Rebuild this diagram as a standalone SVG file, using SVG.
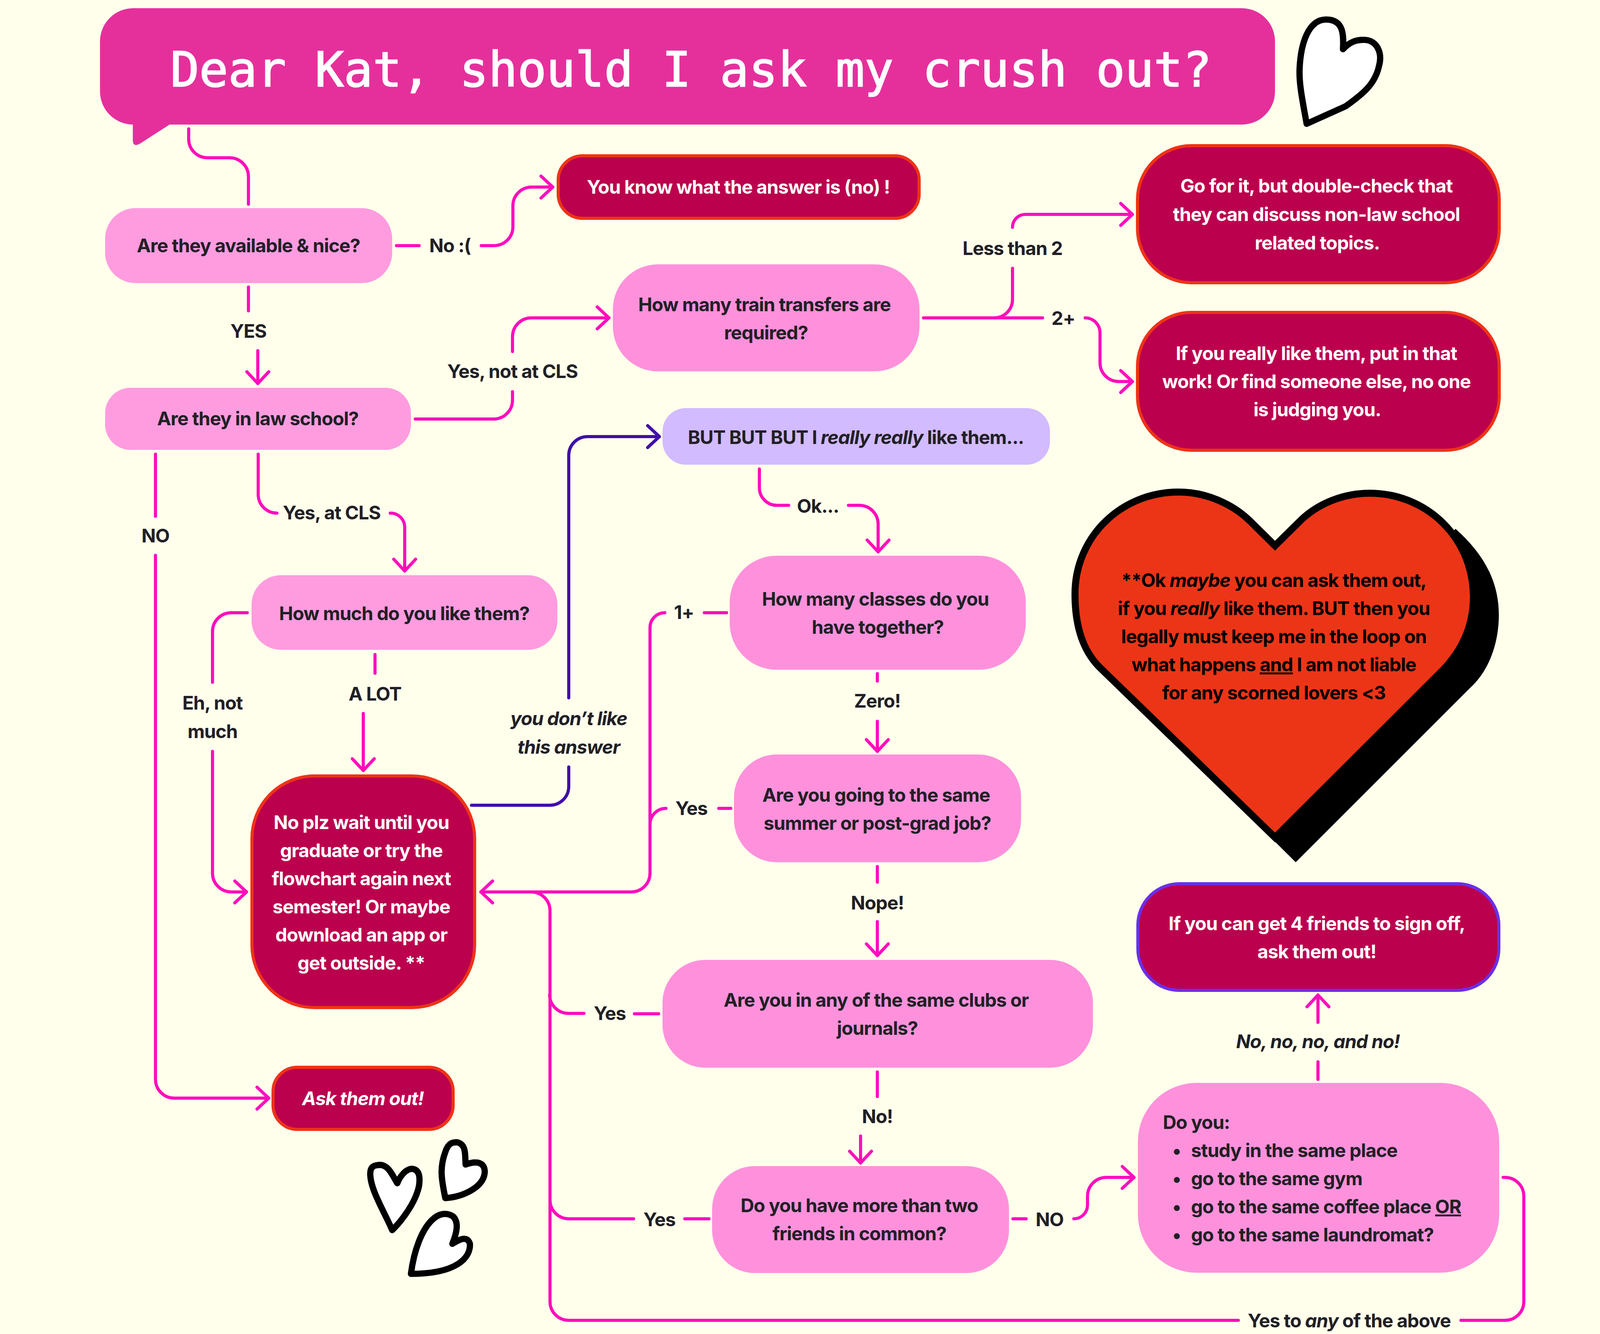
<svg xmlns="http://www.w3.org/2000/svg" width="4162" height="3416" viewBox="0 0 4162 3416">
<style>
text{font-family:"Inter","Liberation Sans",sans-serif;font-size:48px;font-weight:700;letter-spacing:-1.1px;text-anchor:middle;fill:#212025}
.w{fill:#fff}.b{fill:#000}.l{text-anchor:start}.i{font-style:italic}
.n{fill:#ff91dc}.n2{fill:#ff9ce0}
.e{fill:#bb004d;stroke:#ee3317;stroke-width:8}
.c{fill:none;stroke:#ff0dbc;stroke-width:8;stroke-linecap:round;stroke-linejoin:round}
.a{marker-end:url(#arr)}
.p{stroke:#3f0fa8}
.h{fill:#fff;stroke:#000;stroke-width:16;stroke-linejoin:round}
</style>
<defs>
<marker id="arr" markerUnits="userSpaceOnUse" viewBox="-40 -36 48 72" markerWidth="48" markerHeight="72" refX="0" refY="0" orient="auto"><path d="M-30-28L0 0L-30 28" fill="none" stroke="#ff0dbc" stroke-width="8" stroke-linecap="round" stroke-linejoin="round"/></marker>
<marker id="arrp" markerUnits="userSpaceOnUse" viewBox="-40 -36 48 72" markerWidth="48" markerHeight="72" refX="0" refY="0" orient="auto"><path d="M-30-28L0 0L-30 28" fill="none" stroke="#3f0fa8" stroke-width="8" stroke-linecap="round" stroke-linejoin="round"/></marker>
</defs>
<rect width="4162" height="3416" fill="#ffffec"/>
<g id="title">
<path d="M341 21H3179A85 85 0 0 1 3264 106V234A85 85 0 0 1 3179 319H434L358 368Q340 378 340 358V319A85 85 0 0 1 256 234V106A85 85 0 0 1 341 21Z" fill="#e5309c"/>
<text x="1769" y="221" style="font-family:'DejaVu Sans Mono','Liberation Mono',monospace;font-size:123px;font-weight:400;letter-spacing:0;stroke:#fff;stroke-width:2.5px" class="w">Dear Kat, should I ask my crush out?</text>
</g>
<g id="hearts">
<path class="h" d="M3345 317C3335 260 3325 215 3327 175C3330 110 3350 50 3395 50C3440 50 3440 90 3438 126C3455 108 3470 102 3491 102C3525 102 3540 135 3530 170C3520 215 3490 240 3445 272Z"/>
<path class="h" d="M1004 3150C985 3105 950 3050 948 3010C946 2985 960 2983 975 2983C995 2985 1005 3010 1017 3030C1025 3010 1040 2993 1055 2993C1072 2995 1076 3010 1073 3035C1065 3080 1025 3130 1004 3150Z"/>
<path class="h" d="M1140 3068C1130 3020 1125 2990 1140 2950C1148 2925 1160 2925 1170 2925C1195 2930 1190 2960 1192 2982C1210 2975 1240 2970 1241 3000C1240 3040 1185 3065 1140 3068Z"/>
<path class="h" d="M1052 3262C1060 3200 1080 3150 1105 3125C1125 3105 1145 3105 1160 3115C1175 3130 1170 3155 1158 3185C1170 3178 1195 3160 1203 3185C1205 3220 1170 3262 1052 3262Z"/>
</g>
<g id="connectors">
<path class="c" d="M483 330V356A48 48 0 0 0 531 404H588A48 48 0 0 1 636 452V523"/>
<path class="c" d="M1015 629H1073"/>
<path class="c a" d="M1232 629H1265A48 48 0 0 0 1313 581V527A48 48 0 0 1 1361 479H1415"/>
<path class="c" d="M636 735V796"/>
<path class="c a" d="M660 898V982"/>
<path class="c" d="M1063 1073H1264A48 48 0 0 0 1312 1025V1003"/>
<path class="c a" d="M1312 900V862A48 48 0 0 1 1360 814H1559"/>
<path class="c" d="M398 1163V1322"/>
<path class="c a" d="M398 1422V2764A48 48 0 0 0 446 2812H688"/>
<path class="c" d="M661 1163V1266A48 48 0 0 0 709 1314"/>
<path class="c a" d="M999 1314H1000A36 36 0 0 1 1036 1350V1462"/>
<path class="c" d="M633 1569H592A48 48 0 0 0 544 1617V1747"/>
<path class="c a" d="M544 1924V2236A48 48 0 0 0 592 2284H631"/>
<path class="c" d="M960 1676V1724"/>
<path class="c a" d="M930 1827V1973"/>
<path class="c p" d="M1207 2062H1408A48 48 0 0 0 1456 2014V1964"/>
<path class="c p" style="marker-end:url(#arrp)" d="M1456 1787V1166A48 48 0 0 1 1504 1118H1688"/>
<path class="c" d="M1944 1201V1249A45 45 0 0 0 1989 1294H2019"/>
<path class="c a" d="M2172 1294H2200A48 48 0 0 1 2248 1342V1413"/>
<path class="c" d="M1860 1569H1803"/>
<path class="c a" d="M1702 1569A38 38 0 0 0 1664 1607V2236A48 48 0 0 1 1616 2284H1231"/>
<path class="c" d="M2246 1725V1744"/>
<path class="c a" d="M2246 1847V1924"/>
<path class="c" d="M1871 2070H1840"/>
<path class="c" d="M1705 2070A41 41 0 0 0 1664 2111"/>
<path class="c" d="M2246 2219V2259"/>
<path class="c a" d="M2246 2360V2447"/>
<path class="c" d="M1686 2596H1624"/>
<path class="c" d="M1495 2595H1455A48 48 0 0 1 1407 2547"/>
<path class="c" d="M3170 3381H1456A48 48 0 0 1 1408 3333V2332A48 48 0 0 0 1360 2284"/>
<path class="c" d="M3740 3381H3853A48 48 0 0 0 3901 3333V3063A48 48 0 0 0 3853 3015H3848"/>
<path class="c" d="M2246 2745V2808"/>
<path class="c a" d="M2203 2909V2978"/>
<path class="c" d="M1815 3121H1753"/>
<path class="c" d="M1622 3121H1456A48 48 0 0 1 1408 3073"/>
<path class="c" d="M2593 3121H2627"/>
<path class="c a" d="M2749 3121A35 35 0 0 0 2784 3086V3063A48 48 0 0 1 2832 3015H2903"/>
<path class="c" d="M3374 2719V2764"/>
<path class="c a" d="M3374 2618V2548"/>
<path class="c" d="M2364 814H2669"/>
<path class="c" d="M2545 814A47 47 0 0 0 2592 767V687"/>
<path class="c a" d="M2592 582A33 33 0 0 1 2625 549H2899"/>
<path class="c a" d="M2778 814A38 38 0 0 1 2816 852V929A48 48 0 0 0 2864 977H2899"/>
</g>
<g id="connector-labels">
<text x="1152" y="646">No :(</text>
<text x="636" y="865">YES</text>
<text x="1312" y="968">Yes, not at CLS</text>
<text x="398" y="1389">NO</text>
<text x="849" y="1330">Yes, at CLS</text>
<text x="544" y="1817">Eh, not</text><text x="544" y="1890">much</text>
<text x="960" y="1794">A LOT</text>
<text x="1456" y="1857" class="i">you don’t like</text><text x="1456" y="1930" class="i">this answer</text>
<text x="2094" y="1313">Ok...</text>
<text x="1751" y="1585">1+</text>
<text x="2246" y="1812">Zero!</text>
<text x="1770" y="2087">Yes</text>
<text x="2246" y="2329">Nope!</text>
<text x="1561" y="2612">Yes</text>
<text x="2246" y="2876">No!</text>
<text x="1688" y="3140">Yes</text>
<text x="2687" y="3140">NO</text>
<text x="3374" y="2684" class="i">No, no, no, and no!</text>
<text x="3454" y="3399">Yes to <tspan class="i">any</tspan> of the above</text>
<text x="2592" y="653">Less than 2</text>
<text x="2722" y="832">2+</text>
</g>
<g id="n-available"><rect class="n2" x="269" y="533" width="735" height="192" rx="78"/><text x="636" y="646">Are they available &amp; nice?</text></g>
<g id="n-lawschool"><rect class="n2" x="269" y="993" width="783" height="159" rx="65"/><text x="660" y="1089">Are they in law school?</text></g>
<g id="n-youknow"><rect class="e" x="1429" y="399" width="924" height="160" rx="62"/><text class="w" x="1890" y="496">You know what the answer is (no) !</text></g>
<g id="n-train"><rect class="n" x="1569" y="677" width="785" height="274" rx="115"/><text x="1957" y="797">How many train transfers are</text><text x="1961" y="869">required?</text></g>
<g id="n-goforit"><rect class="e" x="2912" y="373" width="926" height="351" rx="138"/><text class="w" x="3370" y="493">Go for it, but double-check that</text><text class="w" x="3370" y="566">they can discuss non-law school</text><text class="w" x="3372" y="639">related topics.</text></g>
<g id="n-reallylike"><rect class="e" x="2912" y="800" width="926" height="353" rx="138"/><text class="w" x="3370" y="922">If you really like them, put in that</text><text class="w" x="3370" y="994">work! Or find someone else, no one</text><text class="w" x="3372" y="1066">is judging you.</text></g>
<g id="n-butbut"><rect x="1696" y="1045" width="992" height="145" rx="60" fill="#d2bbff"/><text x="2191" y="1137">BUT BUT BUT I <tspan class="i">really really</tspan> like them...</text></g>
<g id="n-howmuch"><rect class="n2" x="644" y="1473" width="783" height="191" rx="75"/><text x="1035" y="1588">How much do you like them?</text></g>
<g id="n-noplz"><rect class="e" x="645" y="1987" width="570" height="593" rx="160"/><text class="w" x="925" y="2123">No plz wait until you</text><text class="w" x="925" y="2195">graduate or try the</text><text class="w" x="925" y="2267">flowchart again next</text><text class="w" x="925" y="2339">semester! Or maybe</text><text class="w" x="925" y="2411">download an app or</text><text class="w" x="925" y="2483">get outside. **</text></g>
<g id="n-classes"><rect class="n" x="1868" y="1423" width="758" height="292" rx="120"/><text x="2241" y="1551">How many classes do you</text><text x="2247" y="1623">have together?</text></g>
<g id="n-job"><rect class="n" x="1879" y="1932" width="735" height="276" rx="110"/><text x="2243" y="2053">Are you going to the same</text><text x="2246" y="2125">summer or post-grad job?</text></g>
<g id="n-clubs"><rect class="n" x="1696" y="2458" width="1102" height="276" rx="110"/><text x="2243" y="2578">Are you in any of the same clubs or</text><text x="2246" y="2650">journals?</text></g>
<g id="n-friends"><rect class="n" x="1823" y="2986" width="760" height="274" rx="110"/><text x="2200" y="3104">Do you have more than two</text><text x="2200" y="3176">friends in common?</text></g>
<g id="n-doyou"><rect class="n" x="2913" y="2773" width="925" height="486" rx="150"/>
<text class="l" x="2977" y="2891">Do you:</text>
<text x="3012" y="2963">•</text><text class="l" x="3049" y="2963">study in the same place</text>
<text x="3012" y="3035">•</text><text class="l" x="3049" y="3035">go to the same gym</text>
<text x="3012" y="3107">•</text><text class="l" x="3049" y="3107">go to the same coffee place <tspan text-decoration="underline">OR</tspan></text>
<text x="3012" y="3179">•</text><text class="l" x="3049" y="3179">go to the same laundromat?</text></g>
<g id="n-askout"><rect class="e" x="699" y="2733" width="461" height="159" rx="62"/><text class="w i" x="929" y="2830">Ask them out!</text></g>
<g id="n-fourfriends"><rect class="e" x="2913" y="2263" width="924" height="273" rx="106" style="stroke:#6b2fe8"/><text class="w" x="3371" y="2382">If you can get 4 friends to sign off,</text><text class="w" x="3371" y="2454">ask them out!</text></g>
<g id="n-bigheart">
<path fill="#000" d="M3726 1354C3800 1420 3837 1490 3837 1575C3837 1650 3810 1720 3763 1762L3317 2208L2810 1705L3264 1900Z"/>
<path fill="#ec3517" stroke="#000" stroke-width="36" paint-order="stroke" stroke-linejoin="miter" d="M3264 1410L3334 1341C3376 1299 3440 1272 3506 1272C3650 1272 3763 1385 3763 1528C3763 1600 3735 1660 3688 1709L3264 2132L2821 1702C2775 1656 2761 1590 2761 1521C2761 1380 2875 1269 3017 1269C3085 1269 3152 1299 3194 1341Z"/>
<text class="b" x="3261" y="1503">**Ok <tspan class="i">maybe</tspan> you can ask them out,</text>
<text class="b" x="3261" y="1575">if you <tspan class="i">really</tspan> like them. BUT then you</text>
<text class="b" x="3261" y="1647">legally must keep me in the loop on</text>
<text class="b" x="3261" y="1719">what happens <tspan text-decoration="underline">and</tspan> I am not liable</text>
<text class="b" x="3261" y="1791">for any scorned lovers &lt;3</text>
</g>
</svg>
